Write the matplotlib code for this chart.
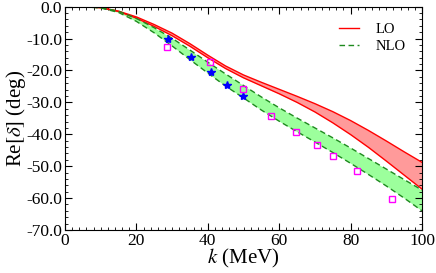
import matplotlib
matplotlib.use("Agg")
import matplotlib.pyplot as plt
from matplotlib.ticker import MultipleLocator, FormatStrFormatter

plt.rcParams['font.family'] = ['Liberation Serif', 'DejaVu Serif']
plt.rcParams['mathtext.fontset'] = 'stix'
plt.rcParams['axes.unicode_minus'] = False

# momentum grid (MeV)
k = [0, 5, 10, 15, 20, 25, 30, 35, 40, 45, 50, 55, 60, 65, 70, 75, 80, 85, 90, 95, 100]

# LO band edges (deg)
lo_hi = [0, 0, -0.3, -1.4, -3.2, -5.6, -8.3, -11.6, -15.2, -18.6, -21.4, -23.7,
         -25.9, -28.1, -30.4, -32.9, -35.7, -38.8, -42.1, -45.5, -48.8]
lo_lo = [0, 0, -0.3, -1.5, -3.6, -6.2, -9.1, -12.4, -16.0, -19.4, -22.3, -24.8,
         -27.3, -30.0, -33.0, -36.4, -40.1, -44.1, -48.4, -52.8, -57.2]

# NLO band edges (deg)
nlo_hi = [0, 0, -0.3, -1.4, -3.7, -6.6, -9.9, -13.6, -17.4, -21.1, -24.7, -28.3,
          -31.7, -34.9, -38.0, -41.1, -44.3, -47.6, -50.9, -54.2, -57.5]
nlo_lo = [0, 0, -0.4, -1.8, -4.6, -8.2, -12.3, -16.6, -20.8, -24.9, -28.6, -32.4,
          -35.9, -39.2, -42.4, -45.7, -49.1, -52.6, -56.2, -60.0, -64.0]

# blue stars
star_k = [28.8, 35.3, 40.9, 45.5, 49.9]
star_d = [-10.1, -15.7, -20.4, -24.5, -27.9]

# magenta squares
sq_k = [28.7, 40.7, 49.8, 57.7, 64.6, 70.7, 75.2, 81.8, 91.5]
sq_d = [-12.5, -17.4, -25.8, -34.4, -39.2, -43.4, -46.9, -51.5, -60.2]

fig = plt.figure(figsize=(4.36, 2.73), dpi=100)
ax = fig.add_axes([0.149, 0.1575, 0.819, 0.818])

ax.fill_between(k, lo_hi, lo_lo, color='#ff9a9a', lw=0)
ax.plot(k, lo_hi, color='red', lw=1.0, label='LO')
ax.plot(k, lo_lo, color='red', lw=1.0)

ax.fill_between(k, nlo_hi, nlo_lo, color='#9cff9c', lw=0)
ax.plot(k, nlo_hi, color='#1e8a1e', lw=1.0, ls=(0, (4, 2.5)), label='NLO')
ax.plot(k, nlo_lo, color='#1e8a1e', lw=1.0, ls=(0, (4, 2.5)))

ax.plot(star_k, star_d, ls='none', marker='*', ms=6, color='blue', zorder=5)
ax.plot(sq_k, sq_d, ls='none', marker='s', ms=5, mfc='none', mec='#ff00ff',
        mew=1.0, zorder=5)

ax.set_xlim(0, 100)
ax.set_ylim(-70, 0)
ax.xaxis.set_major_locator(MultipleLocator(20))
ax.xaxis.set_minor_locator(MultipleLocator(2))
ax.yaxis.set_major_locator(MultipleLocator(10))
ax.yaxis.set_minor_locator(MultipleLocator(2))
ax.yaxis.set_major_formatter(FormatStrFormatter('%.1f'))
ax.tick_params(which='both', direction='in', top=True, right=True, labelsize=12.5)
ax.tick_params(which='major', length=5, pad=2)
ax.tick_params(which='minor', length=2.5)

ax.set_xlabel(r'$k$ (MeV)', fontsize=15, labelpad=-1)
ax.set_ylabel(r'Re$[\delta]$ (deg)', fontsize=15, labelpad=-1)

ax.legend(loc='upper right', frameon=False, fontsize=10.5, handlelength=1.4,
          labelspacing=0.25, handletextpad=1.1, bbox_to_anchor=(0.99, 0.985))

fig.savefig('out.png', dpi=100)
